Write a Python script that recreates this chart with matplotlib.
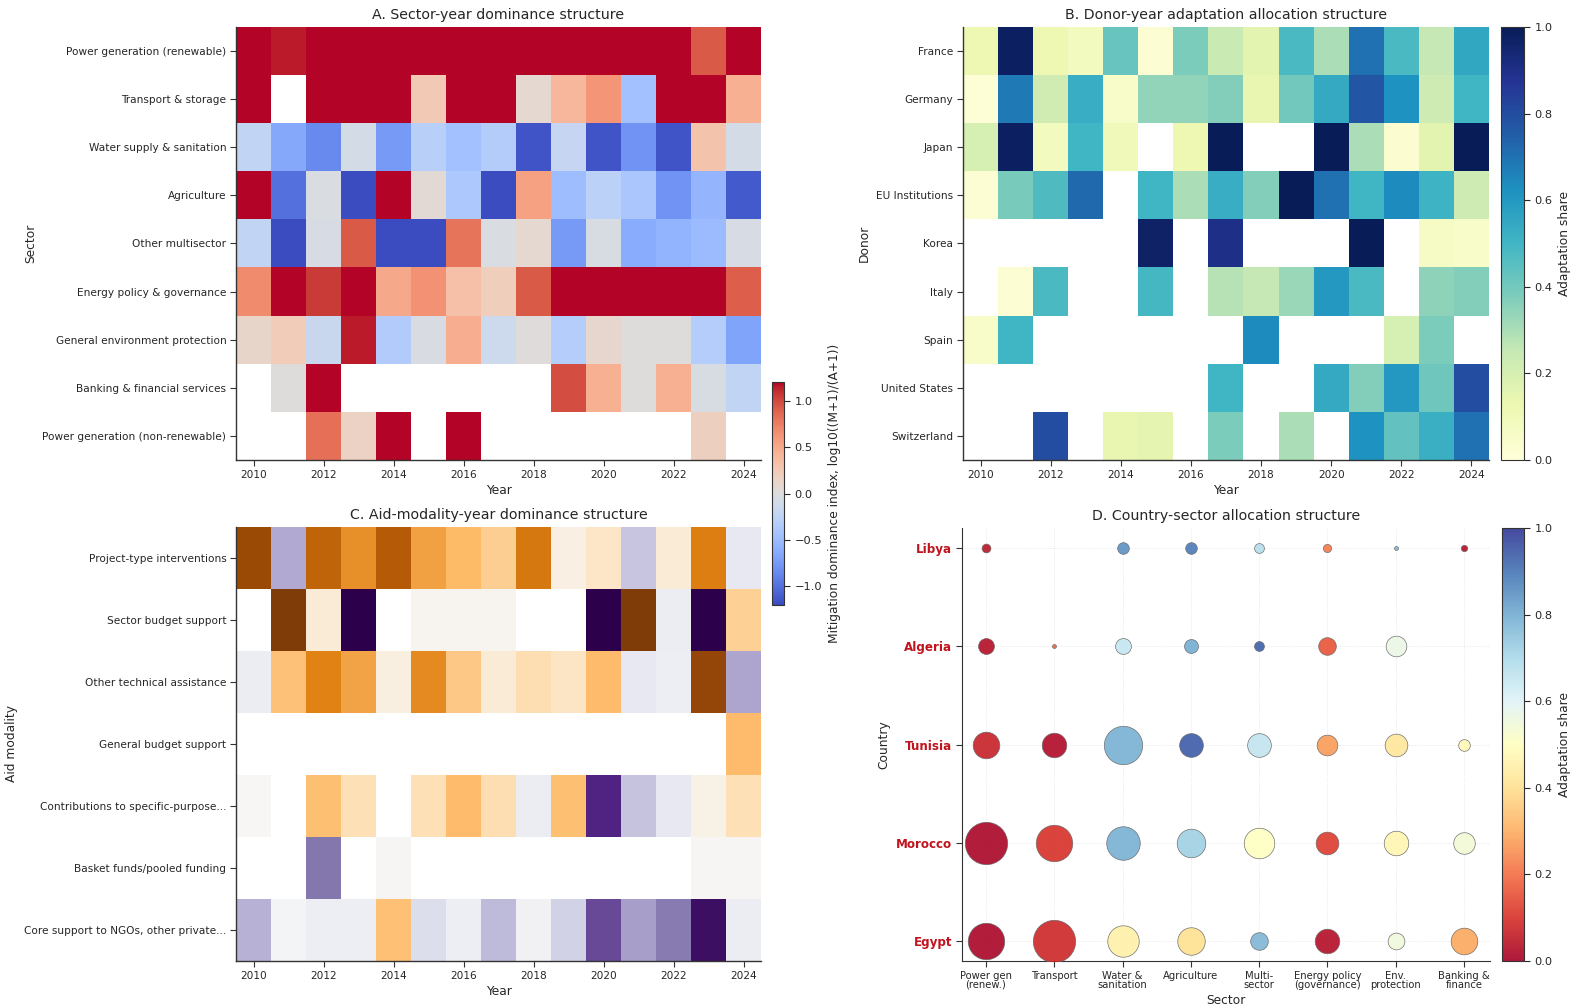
import numpy as np
import matplotlib
matplotlib.use("Agg")
import matplotlib.pyplot as plt
from matplotlib.colors import Normalize

nan = np.nan
years = list(range(2010, 2025))

# ---------------- Panel A: sector-year mitigation dominance ----------------
sectors_A = ["Power generation (renewable)", "Transport & storage", "Water supply & sanitation",
             "Agriculture", "Other multisector", "Energy policy & governance",
             "General environment protection", "Banking & financial services",
             "Power generation (non-renewable)"]
dom_power_ren = [1.5, 1.15, 1.5, 1.6, 1.4, 1.5, 1.7, 1.5, 1.4, 1.6, 1.5, 1.5, 1.4, 0.92, 1.3]
dom_transport = [1.3, nan, 1.3, 1.4, 1.3, 0.25, 1.3, 1.3, 0.08, 0.40, 0.62, -0.45, 1.3, 1.3, 0.45]
dom_water = [-0.22, -0.65, -0.85, -0.08, -0.75, -0.30, -0.45, -0.33, -1.15, -0.20, -1.15, -0.78, -1.15, 0.30, -0.08]
dom_agri = [1.3, -1.0, -0.03, -1.2, 1.3, 0.05, -0.38, -1.2, 0.55, -0.48, -0.28, -0.40, -0.78, -0.55, -1.12]
dom_multi = [-0.22, -1.2, -0.06, 0.92, -1.2, -1.2, 0.80, -0.03, 0.07, -0.75, -0.05, -0.62, -0.56, -0.50, -0.06]
dom_energy = [0.68, 1.3, 1.05, 1.3, 0.50, 0.64, 0.33, 0.20, 0.92, 1.3, 1.3, 1.3, 1.3, 1.3, 0.90]
dom_env = [0.12, 0.22, -0.16, 1.15, -0.34, -0.04, 0.47, -0.14, 0.01, -0.32, 0.10, 0.0, 0.0, -0.32, -0.68]
dom_bank = [nan, 0.0, 1.3, nan, nan, nan, nan, nan, nan, 0.98, 0.45, 0.0, 0.45, -0.05, -0.22]
dom_power_nonren = [nan, nan, 0.82, 0.15, 1.3, nan, 1.3, nan, nan, nan, nan, nan, nan, 0.18, nan]
A_rows = [dom_power_ren, dom_transport, dom_water, dom_agri, dom_multi, dom_energy,
          dom_env, dom_bank, dom_power_nonren]

# ---------------- Panel B: donor-year adaptation share ----------------
donors = ["France", "Germany", "Japan", "EU Institutions", "Korea", "Italy", "Spain",
          "United States", "Switzerland"]
ad_france = [0.12, 0.98, 0.12, 0.08, 0.42, 0.02, 0.38, 0.24, 0.16, 0.48, 0.30, 0.70, 0.48, 0.25, 0.55]
ad_germany = [0.01, 0.68, 0.22, 0.53, 0.05, 0.34, 0.34, 0.37, 0.14, 0.40, 0.54, 0.77, 0.62, 0.23, 0.50]
ad_japan = [0.20, 0.98, 0.08, 0.50, 0.10, nan, 0.12, 1.0, nan, nan, 1.0, 0.30, 0.03, 0.16, 1.0]
ad_eu = [0.02, 0.39, 0.47, 0.72, nan, 0.50, 0.30, 0.53, 0.37, 1.0, 0.70, 0.50, 0.64, 0.51, 0.23]
ad_korea = [nan, nan, nan, nan, nan, 0.97, nan, 0.90, nan, nan, nan, 1.0, nan, 0.06, 0.05]
ad_italy = [nan, 0.02, 0.48, nan, nan, 0.49, nan, 0.28, 0.25, 0.33, 0.60, 0.48, nan, 0.35, 0.37]
ad_spain = [0.05, 0.50, nan, nan, nan, nan, nan, nan, 0.64, nan, nan, nan, 0.20, 0.38, nan]
ad_us = [nan, nan, nan, nan, nan, nan, nan, 0.50, nan, nan, 0.54, 0.37, 0.60, 0.41, 0.80]
ad_swiss = [nan, nan, 0.80, nan, 0.14, 0.15, nan, 0.38, nan, 0.30, nan, 0.62, 0.43, 0.52, 0.70]
B_rows = [ad_france, ad_germany, ad_japan, ad_eu, ad_korea, ad_italy, ad_spain, ad_us, ad_swiss]

# ---------------- Panel C: aid-modality-year dominance ----------------
modalities = ["Project-type interventions", "Sector budget support", "Other technical assistance",
              "General budget support", "Contributions to specific-purpose...",
              "Basket funds/pooled funding", "Core support to NGOs, other private..."]
mod_project = [1.06, -0.48, 0.89, 0.65, 0.94, 0.58, 0.46, 0.34, 0.77, 0.07, 0.17, -0.34, 0.12, 0.74, -0.12]
mod_sector_bs = [nan, 1.3, 0.12, -1.3, nan, 0.02, 0.02, 0.02, nan, nan, -1.3, 1.3, -0.08, -1.3, 0.33]
mod_other_ta = [-0.08, 0.42, 0.72, 0.57, 0.08, 0.68, 0.38, 0.12, 0.25, 0.18, 0.45, -0.12, -0.07, 1.1, -0.5]
mod_general_bs = [nan] * 14 + [0.45]
mod_contrib = [0.0, nan, 0.44, 0.24, nan, 0.24, 0.45, 0.25, -0.08, 0.44, -0.98, -0.35, -0.12, 0.06, 0.24]
mod_basket = [nan, nan, -0.70, nan, 0.01, nan, nan, nan, nan, nan, nan, nan, nan, 0.01, 0.01]
mod_core_ngo = [-0.45, -0.02, -0.07, -0.07, 0.43, -0.20, -0.07, -0.40, -0.04, -0.28, -0.85, -0.53, -0.68, -1.1, -0.08]
C_rows = [mod_project, mod_sector_bs, mod_other_ta, mod_general_bs, mod_contrib, mod_basket, mod_core_ngo]

# ---------------- Panel D: country-sector bubbles ----------------
countries = ["Egypt", "Morocco", "Tunisia", "Algeria", "Libya"]
sectors_D = ["Power gen\n(renew.)", "Transport", "Water &\nsanitation", "Agriculture",
             "Multi-\nsector", "Energy policy\n(governance)", "Env.\nprotection", "Banking &\nfinance"]
vol_egypt = [137, 185, 102, 78, 32, 62, 29, 73]
vol_morocco = [185, 137, 116, 84, 96, 53, 62, 48]
vol_tunisia = [73, 62, 152, 58, 58, 44, 53, 14]
vol_algeria = [26, 1.6, 26, 20, 10, 32, 44, nan]
vol_libya = [8, nan, 14, 14, 10, 7, 1.6, 4.2]
share_egypt = [0.01, 0.08, 0.45, 0.40, 0.78, 0.03, 0.55, 0.29]
share_morocco = [0.01, 0.10, 0.79, 0.72, 0.50, 0.12, 0.47, 0.54]
share_tunisia = [0.07, 0.02, 0.79, 0.94, 0.66, 0.27, 0.42, 0.48]
share_algeria = [0.03, 0.18, 0.65, 0.80, 0.93, 0.16, 0.57, nan]
share_libya = [0.04, nan, 0.85, 0.89, 0.68, 0.22, 0.78, 0.03]
D_vol = [vol_egypt, vol_morocco, vol_tunisia, vol_algeria, vol_libya]
D_share = [share_egypt, share_morocco, share_tunisia, share_algeria, share_libya]

# ---------------- Figure ----------------
plt.rcParams['font.family'] = ['DejaVu Sans']
TXT = '#262626'
fig = plt.figure(figsize=(15.75, 10.08), dpi=100)
W, H = 1575.0, 1008.0

def box(x0, y0, x1, y1):
    return [x0 / W, 1 - y1 / H, (x1 - x0) / W, (y1 - y0) / H]

axA = fig.add_axes(box(236, 27, 761, 460))
axB = fig.add_axes(box(963, 27, 1489, 460))
axC = fig.add_axes(box(236, 527, 761, 961))
axD = fig.add_axes(box(962, 528, 1490, 961))
caxA = fig.add_axes(box(772, 382, 784, 605))
caxB = fig.add_axes(box(1501, 27, 1524, 460))
caxD = fig.add_axes(box(1502, 528, 1524, 961))

TICK_FS = 7.6
LAB_FS = 8.8
TITLE_FS = 10.2

def heat(ax, rows, labels, cmap, vmin, vmax, title, ylabel):
    data = np.ma.masked_invalid(np.array(rows, dtype=float))
    cm = plt.get_cmap(cmap).copy()
    cm.set_bad('white')
    im = ax.imshow(data, cmap=cm, vmin=vmin, vmax=vmax, aspect='auto',
                   interpolation='nearest',
                   extent=[years[0] - 0.5, years[-1] + 0.5, len(rows) - 0.5, -0.5])
    ax.set_xticks(years[::2])
    ax.set_xticklabels([str(y) for y in years[::2]], fontsize=TICK_FS, color=TXT)
    ax.set_yticks(range(len(labels)))
    ax.set_yticklabels(labels, fontsize=TICK_FS, color=TXT)
    ax.set_xlabel("Year", fontsize=LAB_FS, color=TXT, labelpad=3)
    ax.set_ylabel(ylabel, fontsize=LAB_FS, color=TXT)
    ax.set_title(title, fontsize=TITLE_FS, color=TXT, pad=6)
    for s in ['top', 'right']:
        ax.spines[s].set_visible(False)
    for s in ['left', 'bottom']:
        ax.spines[s].set_color('#333333')
        ax.spines[s].set_linewidth(1.0)
    ax.tick_params(length=4, width=0.8, color='#333333', pad=3)
    return im

imA = heat(axA, A_rows, sectors_A, 'coolwarm', -1.2, 1.2,
           "A. Sector-year dominance structure", "Sector")
imB = heat(axB, B_rows, donors, 'YlGnBu', 0, 1,
           "B. Donor-year adaptation allocation structure", "Donor")
imC = heat(axC, C_rows, modalities, 'PuOr_r', -1.2, 1.2,
           "C. Aid-modality-year dominance structure", "Aid modality")

def style_cbar(cb, label, ticks):
    cb.set_ticks(ticks)
    cb.ax.tick_params(labelsize=8.2, length=4, width=0.8, colors=TXT)
    cb.outline.set_edgecolor('#333333')
    cb.outline.set_linewidth(0.8)
    cb.set_label(label, fontsize=LAB_FS, color=TXT)

cbA = fig.colorbar(imA, cax=caxA)
style_cbar(cbA, "Mitigation dominance index, log10((M+1)/(A+1))", [-1.0, -0.5, 0.0, 0.5, 1.0])
cbB = fig.colorbar(imB, cax=caxB)
style_cbar(cbB, "Adaptation share", [0, 0.2, 0.4, 0.6, 0.8, 1.0])

# Panel D bubbles
norm = Normalize(0, 1)
vmax_vol = np.nanmax(np.array(D_vol, dtype=float))
for yi, (vols, shares) in enumerate(zip(D_vol, D_share)):
    for xi, (v, s) in enumerate(zip(vols, shares)):
        if np.isnan(v) or np.isnan(s):
            continue
        axD.scatter(xi, yi, s=v / vmax_vol * 930, c=[s], cmap='RdYlBu', norm=norm,
                    alpha=0.9, edgecolors='#666666', linewidths=0.5, zorder=3)
axD.set_xlim(-0.35, 7.38)
axD.set_ylim(-0.2, 4.2)
axD.set_xticks(range(len(sectors_D)))
axD.set_xticklabels(sectors_D, fontsize=7.2, color=TXT, linespacing=0.85)
axD.set_yticks(range(len(countries)))
axD.set_yticklabels(countries, fontsize=8.6, color='#c0141e', fontweight='bold')
axD.set_xlabel("Sector", fontsize=LAB_FS, color=TXT, labelpad=3)
axD.set_ylabel("Country", fontsize=LAB_FS, color=TXT)
axD.set_title("D. Country-sector allocation structure", fontsize=TITLE_FS, color=TXT, pad=6)
axD.grid(True, color='#e2e2e2', linestyle=':', linewidth=0.6, zorder=0)
axD.set_axisbelow(True)
for s in ['top', 'right']:
    axD.spines[s].set_visible(False)
for s in ['left', 'bottom']:
    axD.spines[s].set_color('#333333')
axD.tick_params(length=4, width=0.8, color='#333333', pad=3)
smD = plt.cm.ScalarMappable(norm=norm, cmap='RdYlBu')
cbD = fig.colorbar(smD, cax=caxD)
style_cbar(cbD, "Adaptation share", [0, 0.2, 0.4, 0.6, 0.8, 1.0])
cbD.solids.set_alpha(0.9)

fig.savefig("out.png", dpi=100)
